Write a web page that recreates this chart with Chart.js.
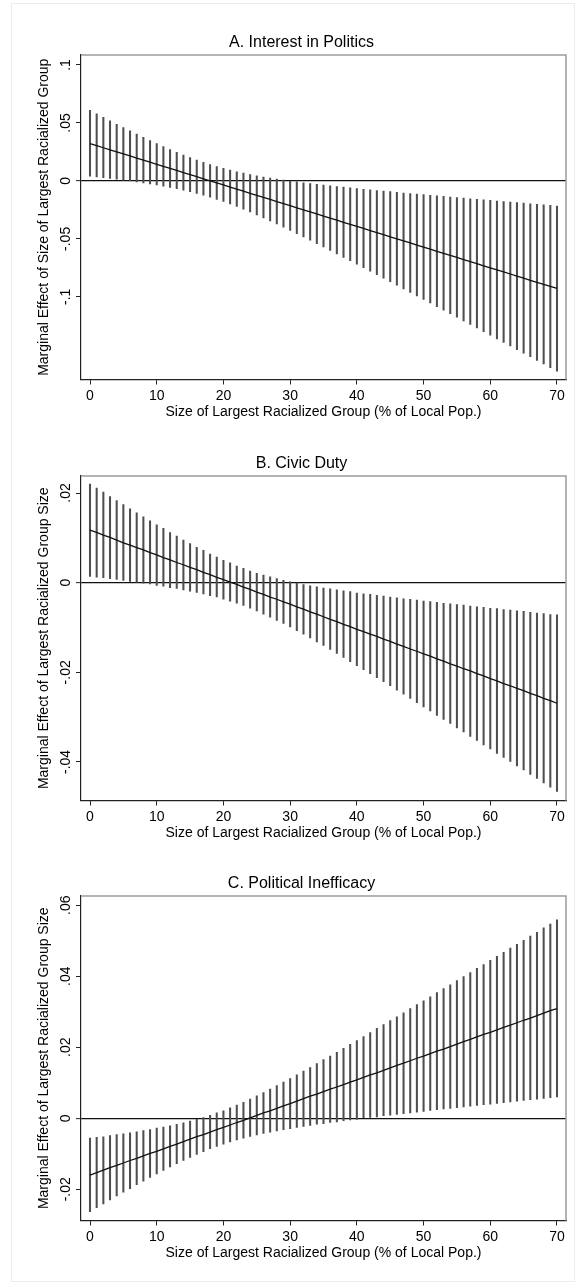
<!DOCTYPE html>
<html>
<head>
<meta charset="utf-8">
<script src="https://cdn.jsdelivr.net/npm/chart.js@4.4.0/dist/chart.umd.min.js"></script>
<style>
html,body{margin:0;padding:0;background:#fff;overflow:hidden;}
#wrap{position:relative;width:582px;height:1288px;background:#fff;}
#frame{position:absolute;left:11px;top:3px;width:564px;height:1279px;border:1px solid #e8eeee;box-sizing:border-box;}
canvas{position:absolute;left:0;}
</style>
</head>
<body>
<div id="wrap">
<div id="frame"></div>
<canvas id="cA" width="582" height="424" style="top:0px;width:582px;height:424px"></canvas>
<canvas id="cB" width="582" height="424" style="top:421px;width:582px;height:424px"></canvas>
<canvas id="cC" width="582" height="424" style="top:841px;width:582px;height:424px"></canvas>
</div>
<script>
// ---- data ----
const xs = [0,1,2,3,4,5,6,7,8,9,10,11,12,13,14,15,16,17,18,19,20,21,22,23,24,25,26,27,28,29,30,31,32,33,34,35,36,37,38,39,40,41,42,43,44,45,46,47,48,49,50,51,52,53,54,55,56,57,58,59,60,61,62,63,64,65,66,67,68,69,70];
const xTickValues = [0,10,20,30,40,50,60,70];
const xTickLabels = ['0','10','20','30','40','50','60','70'];
const xTitle = 'Size of Largest Racialized Group (% of Local Pop.)';

const titleA = 'A. Interest in Politics';
const yTitleA = 'Marginal Effect of Size of Largest Racialized Group';
const yTickValuesA = [-0.1,-0.05,0,0.05,0.1];
const yTickLabelsA = ['-.1','-.05','0','.05','.1'];
const estA = [0.0322,0.0304,0.0286,0.0268,0.0251,0.0233,0.0215,0.0197,0.0179,0.0161,
 0.0143,0.0126,0.0108,0.0090,0.0072,0.0054,0.0036,0.0018,0.0001,-0.0017,
 -0.0035,-0.0053,-0.0071,-0.0089,-0.0107,-0.0125,-0.0142,-0.0160,-0.0178,-0.0196,
 -0.0214,-0.0232,-0.0250,-0.0267,-0.0285,-0.0303,-0.0321,-0.0339,-0.0357,-0.0375,
 -0.0392,-0.0410,-0.0428,-0.0446,-0.0464,-0.0482,-0.0500,-0.0517,-0.0535,-0.0553,
 -0.0571,-0.0589,-0.0607,-0.0625,-0.0642,-0.0660,-0.0678,-0.0696,-0.0714,-0.0732,
 -0.0750,-0.0767,-0.0785,-0.0803,-0.0821,-0.0839,-0.0857,-0.0875,-0.0892,-0.0910,
 -0.0928];
const hiA = [0.0608,0.0578,0.0548,0.0518,0.0489,0.0460,0.0431,0.0403,0.0375,0.0348,
 0.0322,0.0296,0.0271,0.0247,0.0223,0.0201,0.0180,0.0160,0.0141,0.0124,
 0.0108,0.0093,0.0079,0.0067,0.0055,0.0044,0.0034,0.0024,0.0016,0.0007,
 -0.0001,-0.0008,-0.0016,-0.0023,-0.0029,-0.0036,-0.0042,-0.0048,-0.0054,-0.0060,
 -0.0066,-0.0072,-0.0077,-0.0083,-0.0088,-0.0093,-0.0099,-0.0104,-0.0109,-0.0114,
 -0.0119,-0.0124,-0.0129,-0.0134,-0.0139,-0.0144,-0.0149,-0.0154,-0.0159,-0.0164,
 -0.0168,-0.0173,-0.0178,-0.0183,-0.0187,-0.0192,-0.0197,-0.0202,-0.0206,-0.0211,
 -0.0218];
const loA = [0.0040,0.0034,0.0027,0.0021,0.0014,0.0007,-0.0001,-0.0009,-0.0017,-0.0026,
 -0.0035,-0.0045,-0.0056,-0.0067,-0.0079,-0.0093,-0.0108,-0.0123,-0.0140,-0.0159,
 -0.0178,-0.0199,-0.0221,-0.0244,-0.0268,-0.0293,-0.0319,-0.0345,-0.0372,-0.0399,
 -0.0427,-0.0455,-0.0483,-0.0512,-0.0541,-0.0570,-0.0600,-0.0629,-0.0659,-0.0689,
 -0.0719,-0.0749,-0.0779,-0.0809,-0.0840,-0.0870,-0.0900,-0.0931,-0.0962,-0.0992,
 -0.1023,-0.1053,-0.1084,-0.1115,-0.1146,-0.1176,-0.1207,-0.1238,-0.1269,-0.1300,
 -0.1331,-0.1362,-0.1393,-0.1424,-0.1455,-0.1486,-0.1517,-0.1548,-0.1579,-0.1610,
 -0.1641];

const titleB = 'B. Civic Duty';
const yTitleB = 'Marginal Effect of Largest Racialized Group Size';
const yTickValuesB = [-0.04,-0.02,0,0.02];
const yTickLabelsB = ['-.04','-.02','0','.02'];
const estB = [0.0117,0.0112,0.0106,0.0101,0.0095,0.0089,0.0084,0.0078,0.0073,0.0067,
 0.0062,0.0056,0.0051,0.0045,0.0040,0.0034,0.0029,0.0023,0.0018,0.0012,
 0.0007,0.0001,-0.0004,-0.0010,-0.0015,-0.0021,-0.0026,-0.0032,-0.0037,-0.0043,
 -0.0048,-0.0054,-0.0059,-0.0065,-0.0070,-0.0076,-0.0082,-0.0087,-0.0093,-0.0098,
 -0.0104,-0.0109,-0.0115,-0.0120,-0.0126,-0.0131,-0.0137,-0.0142,-0.0148,-0.0153,
 -0.0159,-0.0164,-0.0170,-0.0175,-0.0181,-0.0186,-0.0192,-0.0197,-0.0203,-0.0208,
 -0.0214,-0.0219,-0.0225,-0.0230,-0.0236,-0.0241,-0.0247,-0.0252,-0.0258,-0.0263,
 -0.0269];
const hiB = [0.0220,0.0211,0.0202,0.0192,0.0183,0.0174,0.0165,0.0156,0.0147,0.0138,
 0.0129,0.0121,0.0112,0.0104,0.0095,0.0087,0.0079,0.0072,0.0064,0.0057,
 0.0050,0.0044,0.0037,0.0032,0.0026,0.0021,0.0017,0.0013,0.0009,0.0005,
 0.0002,-0.0001,-0.0004,-0.0007,-0.0009,-0.0012,-0.0014,-0.0016,-0.0018,-0.0020,
 -0.0023,-0.0025,-0.0026,-0.0028,-0.0030,-0.0032,-0.0034,-0.0036,-0.0037,-0.0039,
 -0.0041,-0.0042,-0.0044,-0.0046,-0.0047,-0.0049,-0.0050,-0.0052,-0.0054,-0.0055,
 -0.0057,-0.0058,-0.0060,-0.0061,-0.0063,-0.0064,-0.0066,-0.0068,-0.0069,-0.0071,
 -0.0072];
const loB = [0.0014,0.0012,0.0011,0.0009,0.0007,0.0005,0.0003,0.0001,-0.0001,-0.0003,
 -0.0006,-0.0008,-0.0011,-0.0013,-0.0016,-0.0019,-0.0022,-0.0025,-0.0029,-0.0032,
 -0.0037,-0.0041,-0.0046,-0.0051,-0.0057,-0.0063,-0.0070,-0.0077,-0.0084,-0.0091,
 -0.0099,-0.0107,-0.0115,-0.0123,-0.0132,-0.0140,-0.0149,-0.0158,-0.0167,-0.0176,
 -0.0185,-0.0194,-0.0203,-0.0212,-0.0221,-0.0230,-0.0240,-0.0249,-0.0258,-0.0268,
 -0.0277,-0.0286,-0.0296,-0.0305,-0.0314,-0.0324,-0.0333,-0.0343,-0.0352,-0.0362,
 -0.0371,-0.0381,-0.0390,-0.0399,-0.0409,-0.0418,-0.0428,-0.0437,-0.0447,-0.0456,
 -0.0466];

const titleC = 'C. Political Inefficacy';
const yTitleC = 'Marginal Effect of Largest Racialized Group Size';
const yTickValuesC = [-0.02,0,0.02,0.04,0.06];
const yTickLabelsC = ['-.02','0','.02','.04','.06'];
const estC = [-0.0160,-0.0153,-0.0146,-0.0139,-0.0133,-0.0126,-0.0119,-0.0113,-0.0106,-0.0099,
 -0.0093,-0.0086,-0.0079,-0.0073,-0.0066,-0.0059,-0.0052,-0.0046,-0.0039,-0.0032,
 -0.0026,-0.0019,-0.0012,-0.0006,0.0001,0.0008,0.0015,0.0021,0.0028,0.0035,
 0.0041,0.0048,0.0055,0.0062,0.0068,0.0075,0.0082,0.0088,0.0095,0.0102,
 0.0108,0.0115,0.0122,0.0128,0.0135,0.0142,0.0149,0.0155,0.0162,0.0169,
 0.0175,0.0182,0.0189,0.0195,0.0202,0.0209,0.0216,0.0222,0.0229,0.0236,
 0.0242,0.0249,0.0256,0.0262,0.0269,0.0276,0.0282,0.0289,0.0296,0.0303,
 0.0309];
const hiC = [-0.0056,-0.0054,-0.0052,-0.0049,-0.0046,-0.0044,-0.0041,-0.0038,-0.0035,-0.0032,
 -0.0028,-0.0025,-0.0021,-0.0017,-0.0013,-0.0008,-0.0003,0.0002,0.0008,0.0015,
 0.0021,0.0029,0.0037,0.0045,0.0054,0.0063,0.0072,0.0082,0.0092,0.0102,
 0.0112,0.0122,0.0133,0.0143,0.0154,0.0165,0.0175,0.0186,0.0197,0.0208,
 0.0219,0.0230,0.0241,0.0253,0.0264,0.0275,0.0286,0.0297,0.0309,0.0320,
 0.0331,0.0342,0.0354,0.0365,0.0376,0.0388,0.0399,0.0410,0.0422,0.0433,
 0.0445,0.0456,0.0467,0.0479,0.0490,0.0501,0.0513,0.0524,0.0536,0.0547,
 0.0559];
const loC = [-0.0263,-0.0252,-0.0241,-0.0230,-0.0219,-0.0208,-0.0198,-0.0187,-0.0177,-0.0167,
 -0.0157,-0.0147,-0.0137,-0.0128,-0.0119,-0.0110,-0.0102,-0.0094,-0.0086,-0.0079,
 -0.0073,-0.0067,-0.0061,-0.0056,-0.0051,-0.0047,-0.0043,-0.0039,-0.0036,-0.0032,
 -0.0029,-0.0026,-0.0023,-0.0020,-0.0017,-0.0015,-0.0012,-0.0010,-0.0007,-0.0005,
 -0.0003,0.0000,0.0002,0.0004,0.0007,0.0009,0.0011,0.0013,0.0015,0.0017,
 0.0019,0.0022,0.0024,0.0026,0.0028,0.0030,0.0032,0.0034,0.0036,0.0038,
 0.0040,0.0042,0.0044,0.0046,0.0048,0.0050,0.0052,0.0054,0.0056,0.0058,
 0.0060];

// axis ranges
const xMin = -1.35, xMax = 71.35;
const yRangeA = [-0.1713, 0.1086];
const yRangeB = [-0.0486, 0.0238];
const yRangeC = [-0.0288, 0.0626];

// ---- drawing ----
const FONT = '"Liberation Sans", Arial, Helvetica, sans-serif';
Chart.defaults.font.family = FONT;
Chart.defaults.color = '#000';

const framePlugin = {
  id: 'frame',
  afterDatasetsDraw(chart) {
    const {ctx, chartArea: a} = chart;
    ctx.save();
    ctx.strokeStyle = '#9c9c9c';
    ctx.lineWidth = 1.5;
    ctx.beginPath();
    ctx.moveTo(a.left, a.top);
    ctx.lineTo(a.right, a.top);
    ctx.lineTo(a.right, a.bottom);
    ctx.stroke();
    ctx.restore();
  }
};

function makePanel(id, title, yTitle, yVals, yLabels, yRange, est, lo, hi) {
  const spikes = xs.map((x, i) => ({x: x, y: [lo[i], hi[i]]}));
  const line = xs.map((x, i) => ({x: x, y: est[i]}));
  new Chart(document.getElementById(id), {
    type: 'bar',
    data: {
      datasets: [
        {type: 'line', data: line, borderColor: '#111', borderWidth: 1.3,
         pointRadius: 0, tension: 0, fill: false, order: 0},
        {type: 'bar', data: spikes, backgroundColor: '#4f4f4f', borderWidth: 0,
         barThickness: 1.4, order: 1}
      ]
    },
    options: {
      responsive: false,
      animation: false,
      devicePixelRatio: 1,
      layout: {padding: {left: 37, right: 16, top: 0, bottom: 0}},
      plugins: {
        legend: {display: false},
        tooltip: {enabled: false},
        title: {display: true, text: title, color: '#000',
          font: {size: 16, weight: 'normal', family: FONT},
          padding: {top: 33.4, bottom: 2.4}}
      },
      scales: {
        x: {
          type: 'linear', position: 'bottom', min: xMin, max: xMax, offset: false,
          afterBuildTicks: s => { s.ticks = xTickValues.map(v => ({value: v})); },
          afterFit: s => { s.height = 44.5; },
          ticks: {font: {size: 14}, color: '#000', padding: 3, maxRotation: 0,
            callback: (v, i) => xTickLabels[i]},
          grid: {offset: false, drawOnChartArea: false, color: 'rgba(0,0,0,0)', tickColor: '#222',
            tickLength: 5, tickWidth: 1},
          border: {display: true, color: '#222', width: 1.2},
          title: {display: true, text: xTitle, color: '#000', font: {size: 14},
            padding: {top: 0, bottom: 3}}
        },
        y: {
          type: 'linear', position: 'left', min: yRange[0], max: yRange[1],
          afterBuildTicks: s => { s.ticks = yVals.map(v => ({value: v})); },
          afterFit: s => { s.width = 44; },
          ticks: {font: {size: 14}, color: '#000', padding: -2, crossAlign: 'center',
            minRotation: 90, maxRotation: 90,
            callback: (v, i) => yLabels[i]},
          grid: {
            offset: false,
            color: c => (c.tick && c.tick.value === 0) ? '#111' : 'rgba(0,0,0,0)',
            lineWidth: c => (c.tick && c.tick.value === 0) ? 1.3 : 1,
            tickColor: '#222', tickLength: 5, tickWidth: 1
          },
          border: {display: true, color: '#222', width: 1.2},
          title: {display: true, text: yTitle, color: '#000',
            font: {size: 14, lineHeight: 1}, padding: {top: 0, bottom: 0}}
        }
      }
    },
    plugins: [framePlugin]
  });
}

makePanel('cA', titleA, yTitleA, yTickValuesA, yTickLabelsA, yRangeA, estA, loA, hiA);
makePanel('cB', titleB, yTitleB, yTickValuesB, yTickLabelsB, yRangeB, estB, loB, hiB);
makePanel('cC', titleC, yTitleC, yTickValuesC, yTickLabelsC, yRangeC, estC, loC, hiC);
</script>
</body>
</html>
